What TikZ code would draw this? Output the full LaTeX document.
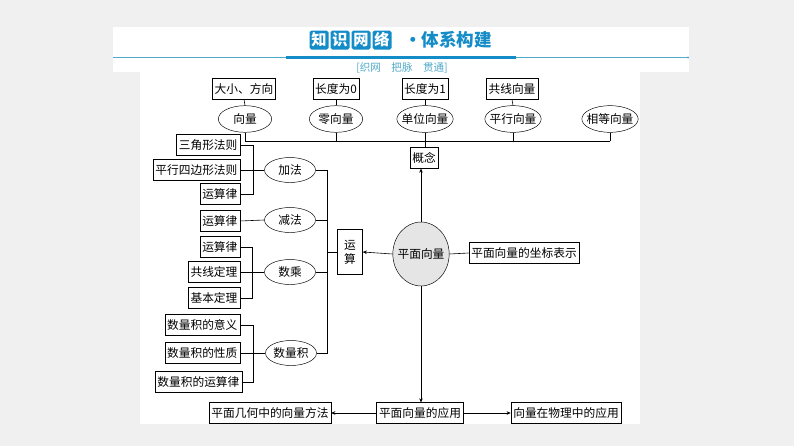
\documentclass[tikz,border=0pt]{standalone}
\usepackage{fontspec}
\setmainfont{Noto Sans CJK SC}
\usetikzlibrary{shapes.geometric,arrows.meta}
\definecolor{pagegray}{RGB}{240,240,240}
\definecolor{titleblue}{RGB}{20,140,200}
\definecolor{linecyan}{RGB}{80,170,200}
\tikzset{
  bx/.style={draw, inner sep=2pt, minimum height=0.62cm, font=\fontsize{10}{12}\selectfont},
  el/.style={draw, ellipse, inner xsep=-3pt, inner ysep=0pt, minimum width=1.6cm, minimum height=0.8cm, font=\fontsize{10}{12}\selectfont},
  ln/.style={draw, line width=0.5pt},
  ar/.style={ln, -{Stealth[length=3.5pt,width=3pt]}},
  tb/.style={fill=titleblue, rounded corners=1.5pt, text=white, inner sep=1pt, minimum size=0.57cm, font=\fontsize{13}{13}\selectfont\bfseries}
}
\begin{document}
\begin{tikzpicture}[x=0.03cm,y=-0.03cm]
\fill[pagegray] (0,0) rectangle (794,446);
\useasboundingbox (0,0) rectangle (794,446);
\fill[white] (113,27) rectangle (689,72);
\fill[white] (140,72) rectangle (640,424);
% header
\draw[linecyan, line width=0.8pt] (113,57.5) -- (688,57.5);
\fill[linecyan] (688,57.5) circle (1.2);
\draw[titleblue, line width=2.2pt] (286,57.5) -- (516,57.5);
\node[tb] (t1) at (319,40) {知};
\node[tb] (t2) at (340,40) {识};
\node[tb] (t3) at (361,40) {网};
\node[tb] (t4) at (382,40) {络};
\node[text=titleblue, font=\fontsize{15}{15}\selectfont\bfseries] (t5) at (448,40) {·体系构建};
\node[text=linecyan, font=\fontsize{9}{10}\selectfont] (sub) at (402,68) {[织网\quad 把脉\quad 贯通]};
% concept row
\node[bx] (b1) at (244,89) {大小、方向};
\node[bx] (b2) at (336,89) {长度为0};
\node[bx] (b3) at (425,89) {长度为1};
\node[bx] (b4) at (512,89) {共线向量};
\node[el] (e1) at (245,119) {向量};
\node[el] (e2) at (336,119) {零向量};
\node[el] (e3) at (425,119) {单位向量};
\node[el] (e4) at (513,119) {平行向量};
\node[el] (e5) at (610,119) {相等向量};
\foreach \i in {1,...,4} \draw[ln] (b\i.south) -- (e\i.north);
\coordinate (bl) at (245,141);
\coordinate (br) at (610,141);
\draw[ln] (bl) -- (br);
\foreach \i in {1,...,5} \draw[ln] (e\i.south) -- (e\i.south |- bl);
\node[bx] (gn) at (424,158) {概念};
\draw[ln] (e3.south |- bl) -- (e3.south |- gn.north);
% centre
\node[el, fill=gray!20, minimum width=1.65cm, minimum height=1.92cm] (pm) at (421,254) {平面向量};
\node[bx] (zb) at (524,253) {平面向量的坐标表示};
\draw[ln] (pm.east) -- (zb.west);
\draw[ar] (pm.north) -- (pm.north |- gn.south);
\node[draw, inner sep=2pt, minimum width=0.75cm, minimum height=1.35cm, align=center, font=\fontsize{10}{12}\selectfont] (ys) at (350,252) {运\\算};
\draw[ar] (pm.west) -- (ys.east);
% operations
\node[el, minimum width=1.53cm, minimum height=0.75cm] (jf) at (290,170) {加法};
\node[el, minimum width=1.53cm, minimum height=0.75cm] (jn) at (290,220) {减法};
\node[el, minimum width=1.53cm, minimum height=0.75cm] (sc) at (290,272) {数乘};
\node[el, minimum width=1.53cm, minimum height=0.75cm] (sl) at (291,353) {数量积};
\coordinate (yt) at (327,170);
\coordinate (yb) at (327,353);
\draw[ln] (jf.east) -- (yt) -- (yb) -- (sl.east);
\draw[ln] (jn.east) -- (jn.east -| yt);
\draw[ln] (sc.east) -- (sc.east -| yt);
\draw[ln] (ys.west) -- (ys.west -| yt);
% left boxes
\node[bx, anchor=east] (a1) at (240,145) {三角形法则};
\node[bx, anchor=east] (a2) at (240,170) {平行四边形法则};
\node[bx, anchor=east] (a3) at (240,194) {运算律};
\node[bx, anchor=east] (m1) at (240,221) {运算律};
\node[bx, anchor=east] (s1) at (240,247) {运算律};
\node[bx, anchor=east] (s2) at (240,272) {共线定理};
\node[bx, anchor=east] (s3) at (240,298) {基本定理};
\node[bx, anchor=east] (d1) at (240,325) {数量积的意义};
\node[bx, anchor=east] (d2) at (240,353) {数量积的性质};
\node[bx, anchor=east] (d3) at (242,382) {数量积的运算律};
\draw[ln] (a1.east) -- (253,145) -- (253,194) -- (a3.east);
\draw[ln] (a2.east) -- (jf.west);
\draw[ln] (m1.east) -- (jn.west);
\draw[ln] (s1.east) -- (252,247) -- (252,298) -- (s3.east);
\draw[ln] (s2.east) -- (sc.west);
\draw[ln] (d1.east) -- (253,325) -- (253,382) -- (d3.east);
\draw[ln] (d2.east) -- (sl.west);
% applications
\node[bx] (yy) at (420,413) {平面向量的应用};
\node[bx] (jh) at (270,413) {平面几何中的向量方法};
\node[bx] (wl) at (566,413) {向量在物理中的应用};
\draw[ar] (pm.south) -- (pm.south |- yy.north);
\draw[ar] (yy.west) -- (jh.east);
\draw[ar] (yy.east) -- (wl.west);
\end{tikzpicture}
\end{document}
